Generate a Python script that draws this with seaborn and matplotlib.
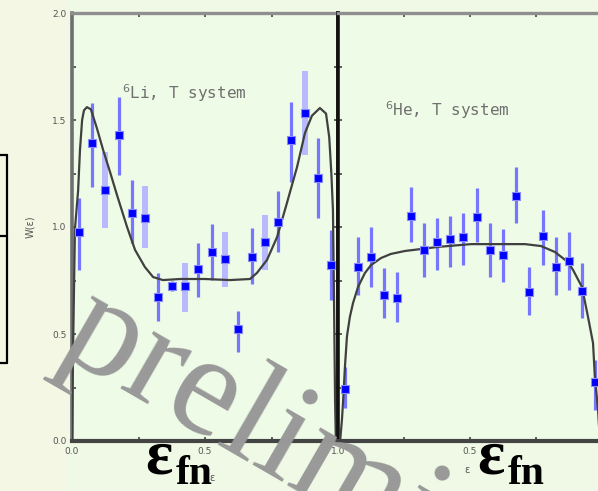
import matplotlib
matplotlib.use("Agg")
import matplotlib.pyplot as plt
import seaborn as sns
import pandas as pd
from matplotlib.lines import Line2D
from matplotlib.patches import Rectangle

# bin centres of the energy fraction
eps_bins = [0.025, 0.075, 0.125, 0.175, 0.225, 0.275, 0.325, 0.375, 0.425, 0.475,
            0.525, 0.575, 0.625, 0.675, 0.725, 0.775, 0.825, 0.875, 0.925, 0.975]

# 6Li, T system
li_w = [0.977, 1.393, 1.173, 1.430, 1.065, 1.042, 0.673, 0.724, 0.724, 0.804,
        0.883, 0.850, 0.523, 0.860, 0.930, 1.023, 1.407, 1.533, 1.229, 0.822]
li_lo = [0.800, 1.187, 0.995, 1.243, 0.925, 0.900, 0.560, 0.700, 0.603, 0.673,
         0.752, 0.720, 0.416, 0.733, 0.800, 0.883, 1.210, 1.336, 1.042, 0.659]
li_hi = [1.135, 1.580, 1.350, 1.607, 1.220, 1.190, 0.785, 0.750, 0.832, 0.925,
         1.014, 0.977, 0.607, 0.995, 1.056, 1.170, 1.584, 1.729, 1.416, 0.986]
li_light = [0, 0, 1, 0, 0, 1, 0, 0, 1, 0, 0, 1, 0, 0, 1, 0, 0, 1, 0, 0]

li_curve_eps = [0.0, 0.004, 0.011, 0.023, 0.030, 0.038, 0.045, 0.056, 0.071, 0.094,
                0.117, 0.143, 0.169, 0.207, 0.237, 0.274, 0.305, 0.342, 0.406, 0.500,
                0.594, 0.669, 0.695, 0.733, 0.771, 0.808, 0.846, 0.876, 0.902, 0.932,
                0.955, 0.967, 0.975, 0.981, 0.985, 0.989, 0.992]
li_curve_w = [0.0, 0.43, 0.99, 1.17, 1.36, 1.50, 1.545, 1.56, 1.55, 1.46,
              1.36, 1.257, 1.15, 1.00, 0.893, 0.813, 0.766, 0.752, 0.757, 0.757,
              0.752, 0.757, 0.785, 0.846, 0.953, 1.112, 1.28, 1.44, 1.52, 1.556,
              1.53, 1.42, 1.25, 1.08, 0.66, 0.19, 0.0]

# 6He, T system
he_w = [0.243, 0.813, 0.860, 0.682, 0.668, 1.051, 0.893, 0.930, 0.944, 0.953,
        1.047, 0.893, 0.869, 1.145, 0.696, 0.958, 0.813, 0.841, 0.701, 0.276]
he_lo = [0.154, 0.682, 0.720, 0.575, 0.556, 0.930, 0.766, 0.800, 0.813, 0.822,
         0.930, 0.766, 0.743, 1.019, 0.589, 0.822, 0.682, 0.706, 0.575, 0.145]
he_hi = [0.346, 0.953, 1.000, 0.808, 0.790, 1.187, 1.020, 1.042, 1.051, 1.065,
         1.180, 1.019, 0.990, 1.280, 0.813, 1.079, 0.953, 0.977, 0.832, 0.379]

he_curve_eps = [0.008, 0.015, 0.019, 0.027, 0.034, 0.045, 0.057, 0.076, 0.102, 0.125,
                0.163, 0.200, 0.254, 0.314, 0.379, 0.504, 0.633, 0.708, 0.769, 0.822,
                0.871, 0.890, 0.924, 0.947, 0.966, 0.973, 0.985, 0.992]
he_curve_w = [0.0, 0.10, 0.18, 0.36, 0.49, 0.58, 0.645, 0.72, 0.785, 0.822,
              0.855, 0.874, 0.888, 0.897, 0.907, 0.92, 0.92, 0.92, 0.911, 0.883,
              0.836, 0.80, 0.72, 0.58, 0.458, 0.30, 0.145, 0.0]

y_ticks = [0.0, 0.25, 0.5, 0.75, 1.0, 1.25, 1.5, 1.75, 2.0]
y_labels = ["0.0", "", "0.5", "", "1.0", "", "1.5", "", "2.0"]
x_ticks = [0.0, 0.25, 0.5, 0.75, 1.0]
li_x_labels = ["0.0", "", "0.5", "", "1.0"]
he_x_labels = ["", "", "0.5", "", "1"]

sns.set_theme(style="ticks")
plt.rcParams["font.family"] = ["DejaVu Sans"]

fig = plt.figure(figsize=(5.98, 4.91), dpi=100)
fig.patch.set_facecolor("#eff9e5")

W, H = 598.0, 491.0
# slightly yellower strip on the left, as on the scanned slide
fig.add_artist(Rectangle((0, 0), 68 / W, 1, transform=fig.transFigure,
                         facecolor="#f3f7e4", edgecolor="none", zorder=0))

ax1 = fig.add_axes([72 / W, 50 / H, 266 / W, 428 / H])
ax2 = fig.add_axes([338 / W, 50 / H, 264 / W, 428 / H])

dark_err = "#7676ff"
light_err = "#b9b9ff"


def draw_panel(ax, w, lo, hi, light, c_eps, c_w):
    ax.set_facecolor("#eefbe7")
    for i, e in enumerate(eps_bins):
        if light[i]:
            ax.vlines(e, lo[i], hi[i], color=light_err, lw=4.3, zorder=2)
        else:
            ax.vlines(e, lo[i], hi[i], color=dark_err, lw=2.3, zorder=2)
    curve = pd.DataFrame({"eps": c_eps, "w": c_w})
    sns.lineplot(data=curve, x="eps", y="w", ax=ax, color="#404040", lw=1.6,
                 sort=False, zorder=3)
    pts = pd.DataFrame({"eps": eps_bins, "w": w})
    sns.scatterplot(data=pts, x="eps", y="w", ax=ax, marker="s", s=30,
                    color="#0000ff", edgecolor="#8a8aff", linewidth=0.8, zorder=4)
    ax.set_xlim(0, 1)
    ax.set_ylim(0, 2)
    ax.set_xlabel("")
    ax.set_ylabel("")
    ax.set_xticks(x_ticks)
    ax.set_yticks(y_ticks)
    ax.tick_params(direction="in", length=3, width=1.2, color="#444",
                   labelsize=6.5, labelcolor="#555", top=True, right=True, pad=4)


draw_panel(ax1, li_w, li_lo, li_hi, li_light, li_curve_eps, li_curve_w)
draw_panel(ax2, he_w, he_lo, he_hi, [0] * 20, he_curve_eps, he_curve_w)

ax1.set_xticklabels(li_x_labels)
ax1.set_yticklabels(y_labels)
ax2.set_xticklabels(he_x_labels)
ax2.set_yticklabels([])

for ax in (ax1, ax2):
    ax.spines["top"].set_color("#8f8f8f")
    ax.spines["top"].set_linewidth(2.4)
    ax.spines["bottom"].set_color("#444444")
    ax.spines["bottom"].set_linewidth(3)
ax1.spines["left"].set_color("#6f6f6f")
ax1.spines["left"].set_linewidth(2.6)
ax1.spines["right"].set_color("#111111")
ax1.spines["right"].set_linewidth(2.6)
ax2.spines["left"].set_color("#111111")
ax2.spines["left"].set_linewidth(2.6)
ax2.spines["right"].set_visible(False)

ax1.text(0.188, 1.598, "$^{6}$Li, T system", fontsize=11.5, color="#707070",
         family="DejaVu Sans Mono", va="baseline", ha="left")
ax2.text(0.178, 1.519, "$^{6}$He, T system", fontsize=11.5, color="#707070",
         family="DejaVu Sans Mono", va="baseline", ha="left")

fig.text(30 / W, (H - 227) / H, "W(ε)", rotation=90, fontsize=7, color="#555",
         ha="center", va="center")
fig.text(212 / W, (H - 478) / H, "ε", fontsize=7, color="#555", ha="center", va="center")
fig.text(467 / W, (H - 470) / H, "ε", fontsize=7, color="#555", ha="center", va="center")

# box fragment at the left edge
for x0, y0, x1, y1 in [(0, 155, 7, 155), (0, 236, 7, 236), (0, 363, 7, 363), (7, 155, 7, 363)]:
    fig.add_artist(Line2D([x0 / W, x1 / W], [(H - y0) / H, (H - y1) / H],
                          color="black", lw=1.6, transform=fig.transFigure))

fig.text(55 / W, (H - 352) / H, "preliminary", rotation=-30, rotation_mode="anchor",
         fontsize=104, family="Liberation Serif", color="#999999",
         ha="left", va="baseline", zorder=10)

for xe, xf in [(145, 176), (477, 508)]:
    fig.text(xe / W, (H - 473) / H, "ε", fontsize=46, family="Liberation Serif",
             weight="bold", color="black", ha="left", va="baseline", zorder=11)
    fig.text(xf / W, (H - 484) / H, "fn", fontsize=30, family="Liberation Serif",
             weight="bold", color="black", ha="left", va="baseline", zorder=11)

fig.savefig("out.png", dpi=100, facecolor=fig.get_facecolor())
